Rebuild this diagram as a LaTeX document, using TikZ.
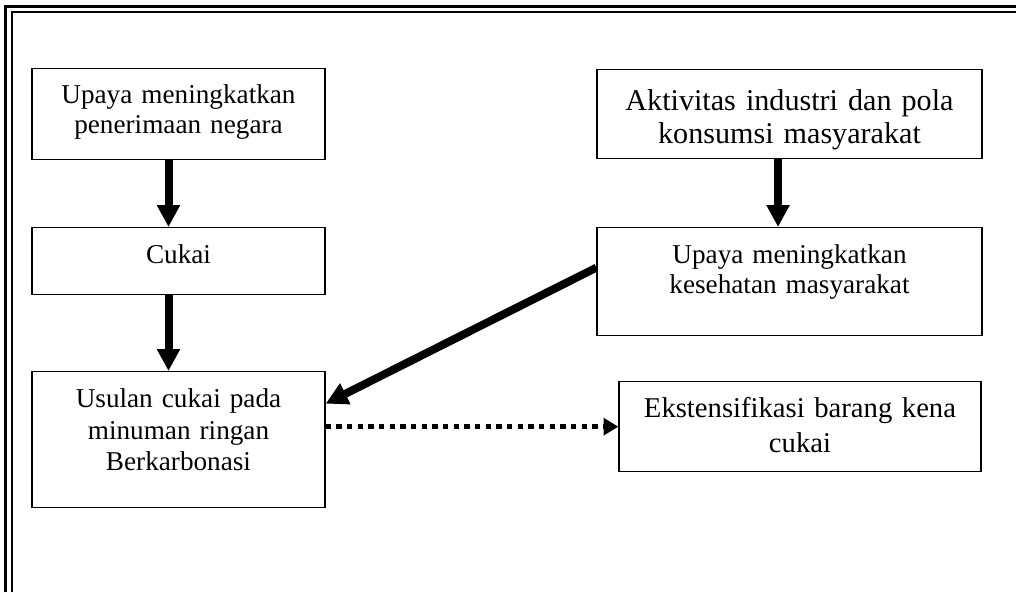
\documentclass[tikz,border=0pt]{standalone}
\usepackage{fontspec}
\setmainfont{Liberation Serif}
\usetikzlibrary{arrows.meta}
\usetikzlibrary{calc}

\begin{document}
\begin{tikzpicture}[x=0.75pt,y=0.75pt,yscale=-1,xscale=1,
  box/.style={draw, line width=1pt, anchor=north, inner sep=0pt, align=center},
  thickarrow/.style={line width=6pt, -{Triangle[length=16.5pt,width=16.5pt]}},
  dotarrow/.style={line width=3.75pt, dash pattern=on 4pt off 4pt, -{Triangle[length=11pt,width=12.5pt]}}]
\useasboundingbox (0,0) rectangle (1016,592);

%Straight Lines (page border, double)
\draw [line width=2.25pt] (5,592) -- (5,6.5) -- (1016,6.5) ;
\draw [line width=1.1pt] (12,592) -- (12,12) -- (1016,12) ;

% Text Node
\node [box, text width=219.75pt, text height=26.25pt, text depth=42pt, font=\fontsize{20.4}{22.5}\selectfont] (upaya) at (178.5,68) {Upaya meningkatkan\\penerimaan negara};
% Text Node
\node [box, text width=219.75pt, text height=27pt, text depth=23.25pt, font=\fontsize{20.4}{22.5}\selectfont] (cukai) at (178.5,227) {Cukai};
% Text Node
\node [box, text width=219.75pt, text height=27pt, text depth=75pt, font=\fontsize{20.4}{23.6}\selectfont] (usulan) at (178.5,371) {Usulan cukai pada\\minuman ringan\\Berkarbonasi};
% Text Node
\node [box, text width=288.75pt, text height=30.75pt, text depth=36pt, font=\fontsize{22.6}{24.75}\selectfont] (aktivitas) at (789.5,69) {Aktivitas industri dan pola\\konsumsi masyarakat};
% Text Node
\node [box, text width=288.75pt, text height=27pt, text depth=54pt, font=\fontsize{20.4}{22.5}\selectfont] (kes) at (789.5,227) {Upaya meningkatkan\\kesehatan masyarakat};
% Text Node
\node [box, text width=271.5pt, text height=27pt, text depth=40.5pt, font=\fontsize{21.5}{26.25}\selectfont] (ekst) at (800,381) {Ekstensifikasi barang kena\\cukai};

%Straight Lines
\draw [thickarrow] ([xshift=-7.5pt]upaya.south) -- ([xshift=-7.5pt]cukai.north) ;
\draw [thickarrow] ([xshift=-7.5pt]cukai.south) -- ([xshift=-7.5pt]usulan.north) ;
\draw [thickarrow] ([xshift=-8.6pt]aktivitas.south) -- ([xshift=-8.6pt]kes.north) ;
\draw [thickarrow] ($(kes.west)+(0,-14)$) -- ($(usulan.east)+(0,-36)$) ;
\draw [dotarrow] (usulan.east |- ekst.west) -- (ekst.west) ;

\end{tikzpicture}
\end{document}
